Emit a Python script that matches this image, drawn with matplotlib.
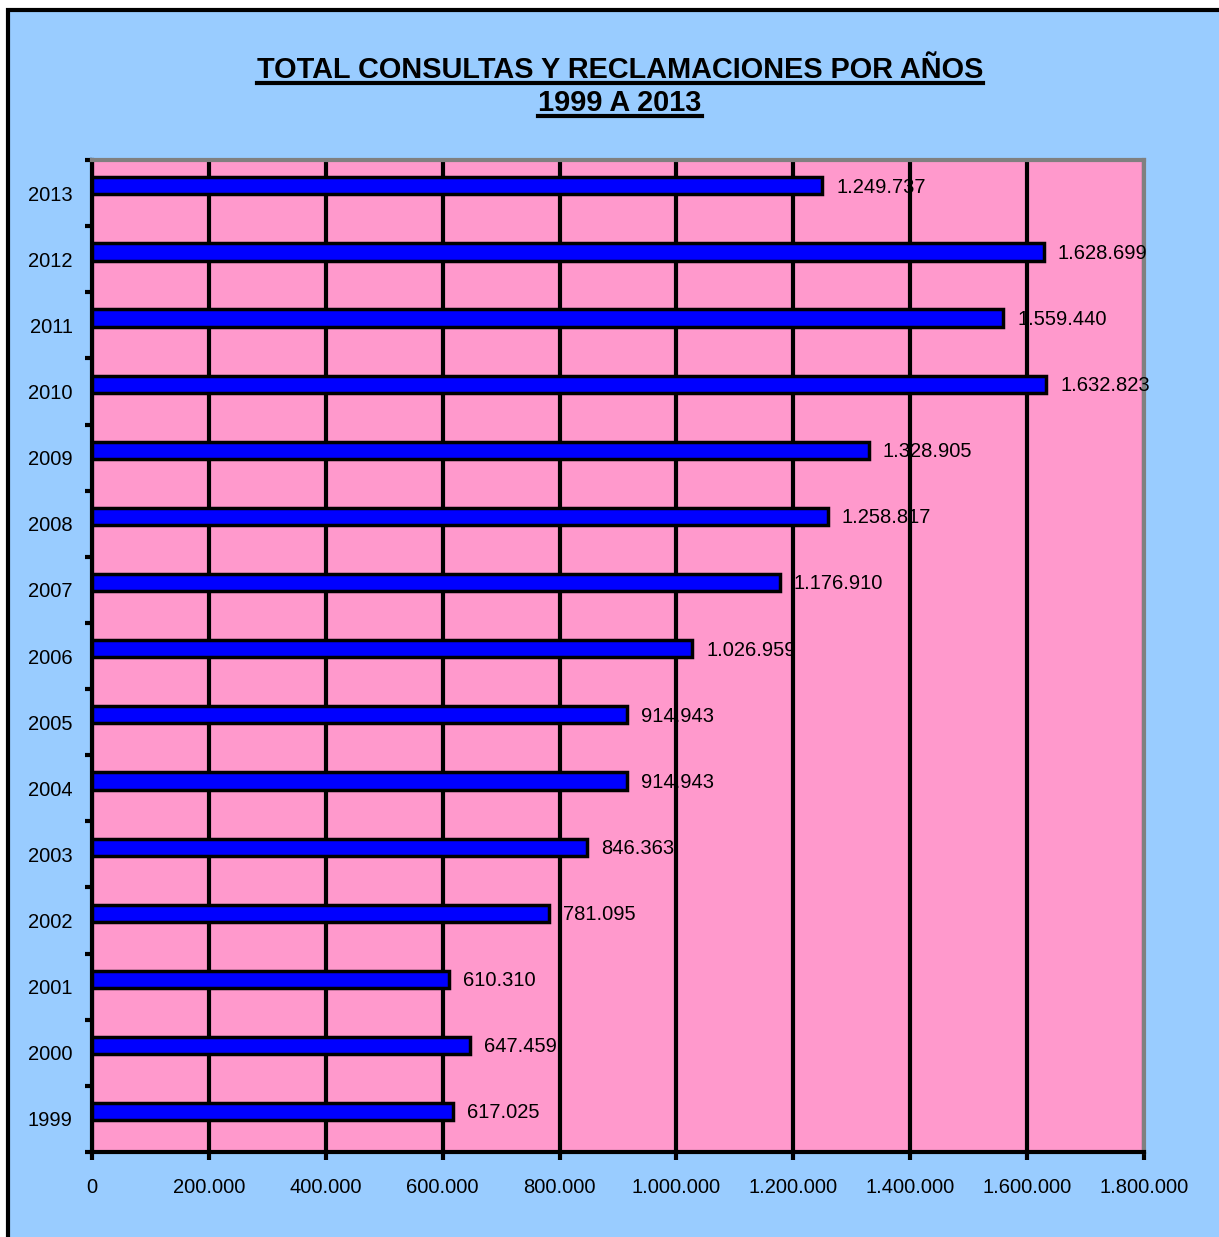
import matplotlib.pyplot as plt
from matplotlib.patches import Rectangle
from matplotlib.lines import Line2D

years = ['1999', '2000', '2001', '2002', '2003', '2004', '2005', '2006',
         '2007', '2008', '2009', '2010', '2011', '2012', '2013']
totals = [617025, 647459, 610310, 781095, 846363, 914943, 914943, 1026959,
          1176910, 1258817, 1328905, 1632823, 1559440, 1628699, 1249737]
x_ticks = [0, 200000, 400000, 600000, 800000, 1000000, 1200000, 1400000, 1600000, 1800000]


def fmt(v):
    # spanish thousands separator
    return f"{v:,}".replace(",", ".")


W, H = 1219, 1237
fig = plt.figure(figsize=(W / 100, H / 100), dpi=100, facecolor='white')
plt.rcParams['font.family'] = ['Liberation Sans', 'DejaVu Sans']

# light blue chart area with black frame
fig.patches.append(Rectangle((8 / W, -0.05), 1.1, 1 - 10.5 / H + 0.05, transform=fig.transFigure,
                             facecolor='#99CCFF', edgecolor='black', linewidth=3, zorder=-5))

ax = fig.add_axes([92 / W, 1 - 1152 / H, (1144 - 92) / W, (1152 - 160) / H])
ax.set_facecolor('#FF99CC')

pos = list(range(len(years)))
bar_pos = [p + 0.11 for p in pos]
ax.barh(bar_pos, totals, height=0.26, color='#0000FF', edgecolor='black', linewidth=2.5, zorder=3)
for p, v in zip(bar_pos, totals):
    ax.text(v + 24000, p - 0.02, fmt(v), va='center', ha='left', fontsize=14.5, zorder=4)

ax.set_xlim(0, 1800000)
ax.set_ylim(-0.5, len(years) - 0.5)
ax.set_xticks(x_ticks)
ax.set_xticklabels([fmt(t) for t in x_ticks], fontsize=14.5)
ax.set_yticks(pos)
ax.set_yticklabels(years, fontsize=14.5)
ax.set_yticks([p - 0.5 for p in pos] + [len(years) - 0.5], minor=True)
ax.tick_params(axis='y', which='major', length=0, pad=14)
ax.tick_params(axis='y', which='minor', length=5, width=3, direction='out')
ax.tick_params(axis='x', length=6, width=3, direction='out', pad=13)
ax.grid(axis='x', color='black', linewidth=3, zorder=1)
ax.set_axisbelow(True)

ax.spines['left'].set_linewidth(3)
ax.spines['bottom'].set_linewidth(3)
ax.spines['top'].set_color('#808080')
ax.spines['right'].set_color('#808080')
ax.spines['top'].set_linewidth(3)
ax.spines['right'].set_linewidth(3)

t1 = fig.text(620 / W, 1 - 70 / H, 'TOTAL CONSULTAS Y RECLAMACIONES POR AÑOS',
              ha='center', va='center', fontsize=20.8, fontweight='bold')
t2 = fig.text(620 / W, 1 - 103 / H, '1999 A 2013',
              ha='center', va='center', fontsize=20.8, fontweight='bold')

# underline the title lines
fig.canvas.draw()
r = fig.canvas.get_renderer()
for t in (t1, t2):
    bb = t.get_window_extent(renderer=r)
    y = bb.y0 + 1
    fig.lines.append(Line2D([bb.x0 / W, bb.x1 / W], [y / H, y / H], transform=fig.transFigure,
                            color='black', linewidth=3))

fig.savefig('out.png', dpi=100, facecolor='white')
